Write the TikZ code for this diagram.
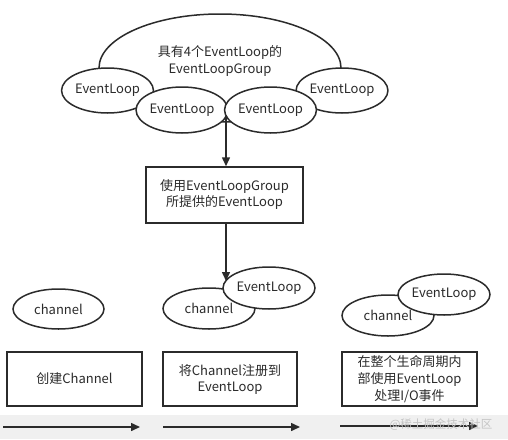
\documentclass[tikz,border=0pt]{standalone}
\usepackage{fontspec}
\setmainfont{Noto Sans CJK SC}
\usetikzlibrary{arrows.meta,shapes.geometric}
\definecolor{ink}{HTML}{2B2B2B}
\definecolor{band}{HTML}{F0F0F0}
\definecolor{wm}{HTML}{C4C4C4}
\tikzset{
  ell/.style={draw=ink, line width=1.5pt, fill=white, ellipse, inner sep=0pt, font=\fontsize{13}{17}\selectfont, text=ink},
  sbox/.style={draw=ink, line width=1.5pt, fill=white, rectangle, inner sep=0pt, align=center, font=\fontsize{13}{16}\selectfont, text=ink},
  arr/.style={draw=ink, line width=1.5pt, -{Triangle[length=9pt,width=8pt]}},
}
\begin{document}
\begin{tikzpicture}[x=1pt,y=-1pt]
\useasboundingbox (0,0) rectangle (508,439);
\fill[band] (0,415) rectangle (508,439);
% top group
\node[ell, minimum width=242pt, minimum height=108pt] (grp) at (220,68) {};
\node[text=ink, align=center, font=\fontsize{13}{17}\selectfont] (grpt) at (220,61.5) {具有4个EventLoop的\\EventLoopGroup};
\coordinate (a1s) at (226,115);
\node[sbox, minimum width=157pt, minimum height=56pt] (b1) at (224.5,195) {使用EventLoopGroup\\所提供的EventLoop};
\draw[arr] (a1s) -- (a1s |- b1.north);
\node[ell, minimum width=91pt, minimum height=45pt] (e1) at (107.5,90.5) {EventLoop};
\node[ell, minimum width=90pt, minimum height=45pt] (e4) at (342,90.5) {EventLoop};
\node[ell, minimum width=89pt, minimum height=46pt] (e2) at (182,110) {EventLoop};
\node[ell, minimum width=89pt, minimum height=46pt] (e3) at (270.5,110) {EventLoop};
% channels
\node[ell, minimum width=91pt, minimum height=40pt] (c1) at (58.5,309) {channel};
\node[ell, minimum width=92pt, minimum height=41pt] (c2) at (209,308.5) {channel};
\node[ell, minimum width=92pt, minimum height=42pt] (l2) at (269,288) {EventLoop};
\coordinate (a2e) at (226,281);
\draw[arr] (b1.south -| a2e) -- (a2e);
\node[ell, minimum width=92pt, minimum height=41pt] (c3) at (388,315.5) {channel};
\node[ell, minimum width=92pt, minimum height=41pt] (l3) at (444,294.5) {EventLoop};
% bottom boxes
\node[sbox, minimum width=135pt, minimum height=54pt] (s1) at (74.5,379) {创建Channel};
\node[sbox, minimum width=134pt, minimum height=54pt] (s2) at (230,379) {将Channel注册到\\EventLoop};
\node[sbox, minimum width=135pt, minimum height=54pt, font=\fontsize{13}{17}\selectfont] (s3) at (409.5,379) {在整个生命周期内\\部使用EventLoop\\处理I/O事件};
% bottom arrows
\coordinate (p1) at (3,427); \coordinate (q1) at (140,427);
\coordinate (p2) at (163,427); \coordinate (q2) at (300,427);
\coordinate (p3) at (340,426); \coordinate (q3) at (478,426);
\draw[arr] (p1) -- (q1);
\draw[arr] (p2) -- (q2);
\draw[arr] (p3) -- (q3);
\node[text=wm, font=\fontsize{11.5}{14}\selectfont, anchor=east] (wmk) at (496,425) {@稀土掘金技术社区};
\end{tikzpicture}
\end{document}
